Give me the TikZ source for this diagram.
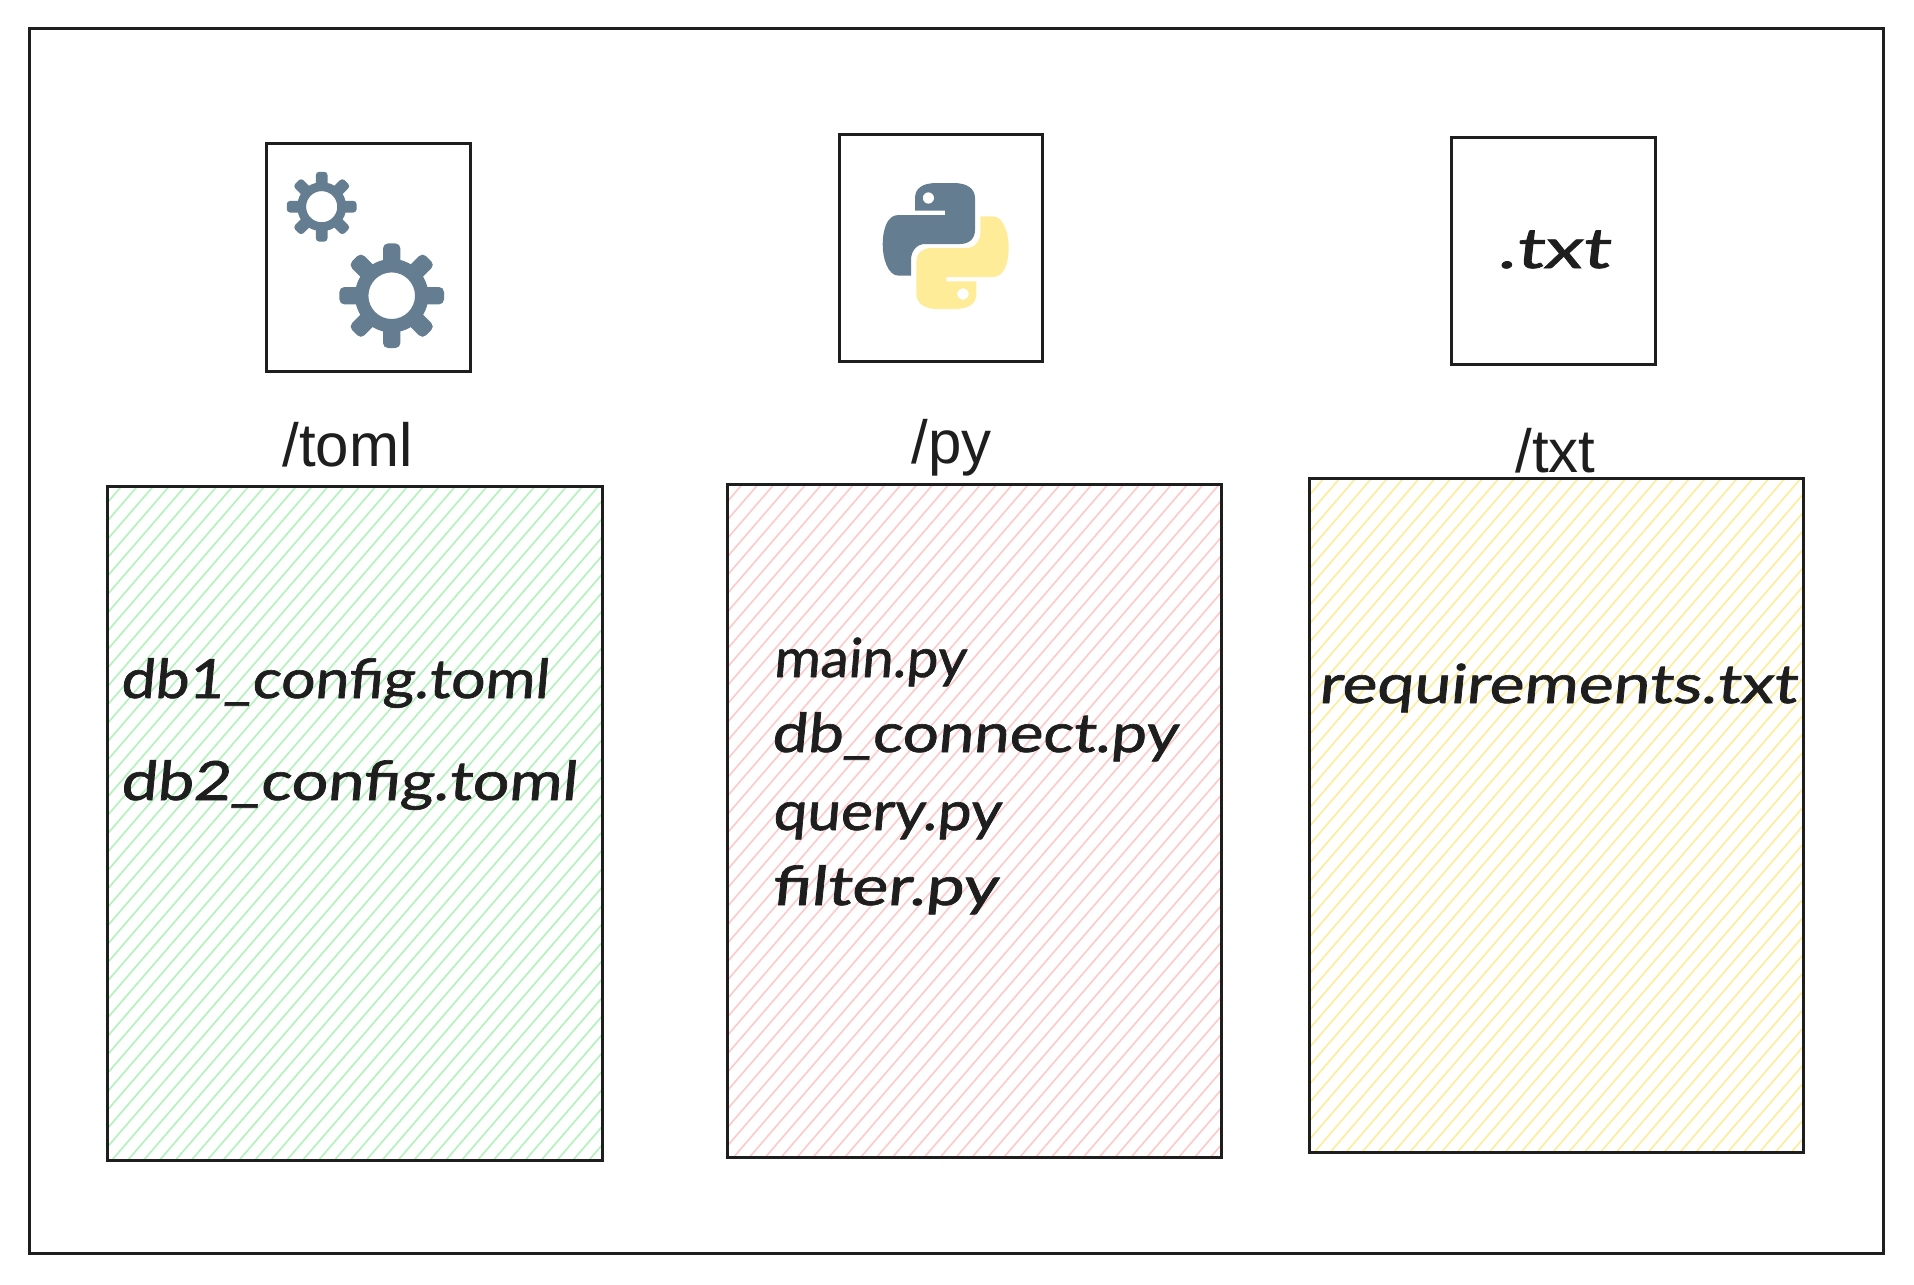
\documentclass[tikz,border=0pt]{standalone}
\usepackage{fontspec}
\usepackage{graphicx}
\setmainfont{Liberation Sans}
\newfontfamily\handfam[FakeBold=1.2,FakeSlant=0.08]{Lato}
\definecolor{ink}{HTML}{1E1E1E}
\definecolor{hgreen}{HTML}{B2F2BB}
\definecolor{hred}{HTML}{FFC9C9}
\definecolor{hyellow}{HTML}{FFEC99}
\definecolor{pyblue}{HTML}{647D91}
\definecolor{pyyellow}{HTML}{FFEC99}
\newcommand{\hatchbox}[6]{%
  \begin{scope}
    \clip (#1,#2) rectangle (#3,#4);
    \foreach \k in {0,...,75} {
      \pgfmathsetmacro{\cc}{#6+15.9*(\k-4)}
      \draw[hatchline,#5] ({\cc-#2/1.158},#2) -- ({\cc-#4/1.158},#4);
    }
  \end{scope}}
\newcommand{\gearicon}[3]{%
  \begin{scope}[shift={(#1,#2)},scale=#3]
    \fill[pyblue,even odd rule] (0,0) circle[radius=36.7] (0,0) circle[radius=23.3];
    \pgfmathsetmacro{\rc}{2.5*#3}
    \foreach \a in {0,45,...,315} {
      \fill[pyblue,rotate=\a,rounded corners=\rc pt] (30,-8.7) rectangle (52.3,8.7);
    }
  \end{scope}}
\newcommand{\snake}{(-30.7,-35.3) -- (-30.7,-47.7)
  .. controls (-30.7,-58) and (-23,-62.7) .. (-10,-63)
  -- (9,-63) .. controls (22,-62.7) and (29.3,-57) .. (29.3,-47.7)
  -- (29.3,-16) .. controls (29.3,-7) and (23,-2) .. (14.3,-2)
  -- (-20.7,-2) .. controls (-29,-2) and (-34.7,5) .. (-34.7,14)
  -- (-34.7,29.7) -- (-47,29.7)
  .. controls (-58,29.7) and (-63,12) .. (-63,-1)
  .. controls (-63,-18) and (-58,-31) .. (-47.3,-31)
  -- (-0.7,-31) -- (-0.7,-35.3) -- cycle}
\tikzset{
  frame/.style={draw=ink,line width=1.5pt,inner sep=0,outer sep=0},
  hatchline/.style={line width=0.8pt},
  hand/.style={inner sep=0,anchor=base west,text=ink,font=\handfam\fontsize{27}{27}\selectfont},
  hand small/.style={hand,font=\handfam\fontsize{28}{28}\selectfont},
  dirlabel/.style={inner sep=0,anchor=base west,text=ink,font=\fontsize{30.5}{30.5}\selectfont},
}
\newcommand{\fitw}[2]{\resizebox{#1pt}{\height}{#2}}
\begin{document}
\begin{tikzpicture}[x=0.5pt,y=-0.5pt]
\useasboundingbox (0,0) rectangle (1914,1284);
\fill[white] (0,0) rectangle (1914,1284);
\draw[frame] (29,29) rectangle (1883.5,1253.5);
% hatching
\hatchbox{107}{486}{603}{1161}{hgreen}{541.4}
\hatchbox{727}{484}{1222}{1158}{hred}{1160.5}
\hatchbox{1309}{478}{1804}{1153}{hyellow}{1721}
% file boxes
\draw[frame] (107,486) rectangle (602.5,1160.5);
\draw[frame] (727,484) rectangle (1221.5,1157.5);
\draw[frame] (1309,478) rectangle (1803.5,1152.5);
% icon boxes
\draw[frame] (266,143) rectangle (470.5,371.5);
\draw[frame] (839,134) rectangle (1042.5,361.5);
\draw[frame] (1451,137) rectangle (1655.5,364.5);
% gears
\gearicon{321.7}{206.7}{0.668}
\gearicon{391.7}{295.7}{1}
% python logo
\begin{scope}[shift={(945.7,246)}]
  \fill[pyblue,even odd rule] \snake (-17.3,-48) circle[radius=5.7];
  \begin{scope}[rotate=180]
    \fill[pyyellow,even odd rule] \snake (-17.3,-48) circle[radius=5.7];
  \end{scope}
\end{scope}
% labels
\node[dirlabel] (ltoml) at (282,466) {\fitw{65}{/toml}};
\node[dirlabel] (lpy) at (911,463) {\fitw{40}{/py}};
\node[dirlabel] (ltxt) at (1515,472) {\fitw{40}{/txt}};
\node[hand small] (dottxt) at (1497,268) {\fitw{56}{.txt}};
\node[hand] (db1) at (120,698) {\fitw{214}{db1\_config.toml}};
\node[hand] (db2) at (120,800) {\fitw{228}{db2\_config.toml}};
\node[hand] (mainpy) at (773,677) {\fitw{96}{main.py}};
\node[hand] (dbconn) at (771,752) {\fitw{203}{db\_connect.py}};
\node[hand] (querypy) at (772,830) {\fitw{114}{query.py}};
\node[hand] (filterpy) at (771,905) {\fitw{113}{filter.py}};
\node[hand] (reqs) at (1318,703) {\fitw{239}{requirements.txt}};
\end{tikzpicture}
\end{document}
